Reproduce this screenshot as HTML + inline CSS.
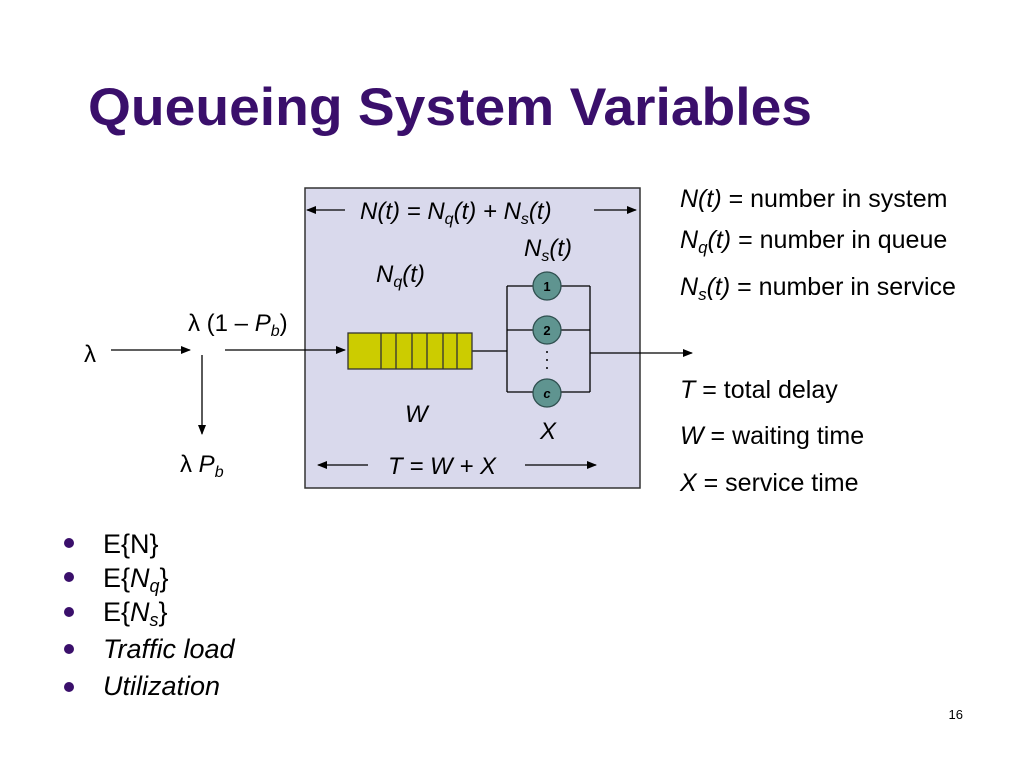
<!DOCTYPE html>
<html><head><meta charset="utf-8"><style>
body{margin:0;background:#fff;}
svg{display:block;font-family:"Liberation Sans",Arial,sans-serif;}
</style></head><body>
<svg width="1024" height="768" viewBox="0 0 1024 768" xmlns="http://www.w3.org/2000/svg">
<defs>
<marker id="a" markerWidth="10" markerHeight="8" refX="9" refY="4" orient="auto" markerUnits="userSpaceOnUse"><path d="M0,0 L10,4 L0,8 z" fill="#000"/></marker>
</defs>
<text x="88" y="125" font-size="53" font-weight="bold" fill="#3a0f6b" textLength="724" lengthAdjust="spacingAndGlyphs">Queueing System Variables</text>

<rect x="305" y="188" width="335" height="300" fill="#d9d9ec" stroke="#333" stroke-width="1.5"/>

<g stroke="#000" stroke-width="1.3" fill="none">
<line x1="345" y1="210" x2="307" y2="210" marker-end="url(#a)"/>
<line x1="594" y1="210" x2="636" y2="210" marker-end="url(#a)"/>
<line x1="368" y1="465" x2="318" y2="465" marker-end="url(#a)"/>
<line x1="525" y1="465" x2="596" y2="465" marker-end="url(#a)"/>
<line x1="111" y1="350" x2="190" y2="350" marker-end="url(#a)"/>
<line x1="202" y1="355" x2="202" y2="434" marker-end="url(#a)"/>
<line x1="225" y1="350" x2="345" y2="350" marker-end="url(#a)"/>
<line x1="472" y1="351" x2="507" y2="351"/>
<line x1="507" y1="286" x2="507" y2="392"/>
<line x1="590" y1="286" x2="590" y2="392"/>
<line x1="507" y1="286" x2="590" y2="286"/>
<line x1="507" y1="330" x2="590" y2="330"/>
<line x1="507" y1="392" x2="590" y2="392"/>
<line x1="590" y1="353" x2="692" y2="353" marker-end="url(#a)"/>
</g>

<rect x="348" y="333" width="124" height="36" fill="#cccc00" stroke="#333" stroke-width="1.3"/>
<g stroke="#333" stroke-width="1.3">
<line x1="381" y1="333" x2="381" y2="369"/><line x1="396" y1="333" x2="396" y2="369"/>
<line x1="412" y1="333" x2="412" y2="369"/><line x1="427" y1="333" x2="427" y2="369"/>
<line x1="443" y1="333" x2="443" y2="369"/><line x1="457" y1="333" x2="457" y2="369"/>
</g>

<g fill="#5f9490" stroke="#2f4f4f" stroke-width="1.3">
<circle cx="547" cy="286" r="14"/><circle cx="547" cy="330" r="14"/><circle cx="547" cy="393" r="14"/>
</g>
<g font-size="13" font-weight="bold" text-anchor="middle">
<text x="547" y="291">1</text><text x="547" y="335">2</text><text x="547" y="398" font-style="italic">c</text>
</g>
<g fill="#000"><circle cx="547" cy="352" r="1"/><circle cx="547" cy="360" r="1"/><circle cx="547" cy="368" r="1"/></g>

<g font-size="24" font-style="italic">
<text x="360" y="219">N(t) = N<tspan font-size="16" dy="5">q</tspan><tspan dy="-5">(t) + N</tspan><tspan font-size="16" dy="5">s</tspan><tspan dy="-5">(t)</tspan></text>
<text x="524" y="256">N<tspan font-size="16" dy="5">s</tspan><tspan dy="-5">(t)</tspan></text>
<text x="376" y="282">N<tspan font-size="16" dy="5">q</tspan><tspan dy="-5">(t)</tspan></text>
<text x="405" y="422">W</text>
<text x="540" y="439">X</text>
<text x="388" y="474">T = W + X</text>
</g>
<g font-size="24">
<text x="84" y="362">λ</text>
<text x="188" y="331">λ (1 – <tspan font-style="italic">P</tspan><tspan font-size="16" font-style="italic" dy="5">b</tspan><tspan dy="-5">)</tspan></text>
<text x="180" y="472">λ <tspan font-style="italic">P</tspan><tspan font-size="16" font-style="italic" dy="5">b</tspan></text>
</g>

<g font-size="25">
<text x="680" y="207"><tspan font-style="italic">N(t)</tspan> = number in system</text>
<text x="680" y="248"><tspan font-style="italic">N</tspan><tspan font-size="17" font-style="italic" dy="5">q</tspan><tspan font-style="italic" dy="-5">(t)</tspan> = number in queue</text>
<text x="680" y="295"><tspan font-style="italic">N</tspan><tspan font-size="17" font-style="italic" dy="5">s</tspan><tspan font-style="italic" dy="-5">(t)</tspan> = number in service</text>
<text x="680" y="398"><tspan font-style="italic">T</tspan> = total delay</text>
<text x="680" y="444"><tspan font-style="italic">W</tspan> = waiting time</text>
<text x="680" y="491"><tspan font-style="italic">X</tspan> = service time</text>
</g>

<g fill="#3a0f6b">
<circle cx="69" cy="543" r="5"/><circle cx="69" cy="577" r="5"/><circle cx="69" cy="612" r="5"/><circle cx="69" cy="649" r="5"/><circle cx="69" cy="687" r="5"/>
</g>
<g font-size="27">
<text x="103" y="553">E{N}</text>
<text x="103" y="587">E{<tspan font-style="italic">N</tspan><tspan font-style="italic" font-size="18" dy="5">q</tspan><tspan dy="-5">}</tspan></text>
<text x="103" y="621">E{<tspan font-style="italic">N</tspan><tspan font-style="italic" font-size="18" dy="5">s</tspan><tspan dy="-5">}</tspan></text>
<text x="103" y="658" font-style="italic">Traffic load</text>
<text x="103" y="695" font-style="italic">Utilization</text>
</g>
<text x="963" y="719" font-size="13" text-anchor="end">16</text>
</svg>
</body></html>
